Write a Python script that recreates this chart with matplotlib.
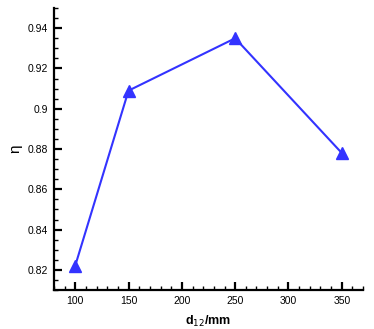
import matplotlib
matplotlib.use("Agg")
import matplotlib.pyplot as plt
from matplotlib.ticker import MultipleLocator

d12 = [100, 150, 250, 350]
eta = [0.822, 0.909, 0.935, 0.878]
xticks = [100, 150, 200, 250, 300, 350]
yticks = [0.82, 0.84, 0.86, 0.88, 0.90, 0.92, 0.94]
ytick_labels = ["0.82", "0.84", "0.86", "0.88", "0.9", "0.92", "0.94"]

plt.rcParams['font.family'] = ['Liberation Sans', 'DejaVu Sans']
fig = plt.figure(figsize=(3.74, 3.29), dpi=100)
ax = fig.add_axes([0.144, 0.1185, 0.827, 0.857])
color = '#3333ff'
ax.plot(d12, eta, color=color, lw=1.5, marker='^', markersize=8, markeredgecolor=color, markerfacecolor=color)
ax.set_xlim(80, 370)
ax.set_ylim(0.81, 0.95)
ax.set_xticks(xticks)
ax.set_yticks(yticks)
ax.set_yticklabels(ytick_labels)
ax.xaxis.set_minor_locator(MultipleLocator(10))
ax.yaxis.set_minor_locator(MultipleLocator(0.005))
for s in ['top', 'right']:
    ax.spines[s].set_visible(False)
for s in ['left', 'bottom']:
    ax.spines[s].set_linewidth(1.6)
ax.tick_params(which='major', direction='in', length=6, width=1.6, labelsize=7.5, pad=4)
ax.tick_params(which='minor', direction='in', length=3, width=1.0)
ax.set_xlabel('d$_{12}$/mm', fontsize=9, fontweight='bold', labelpad=6)
ax.set_ylabel('η', fontsize=11, labelpad=4)
fig.savefig('out.png', dpi=100)
